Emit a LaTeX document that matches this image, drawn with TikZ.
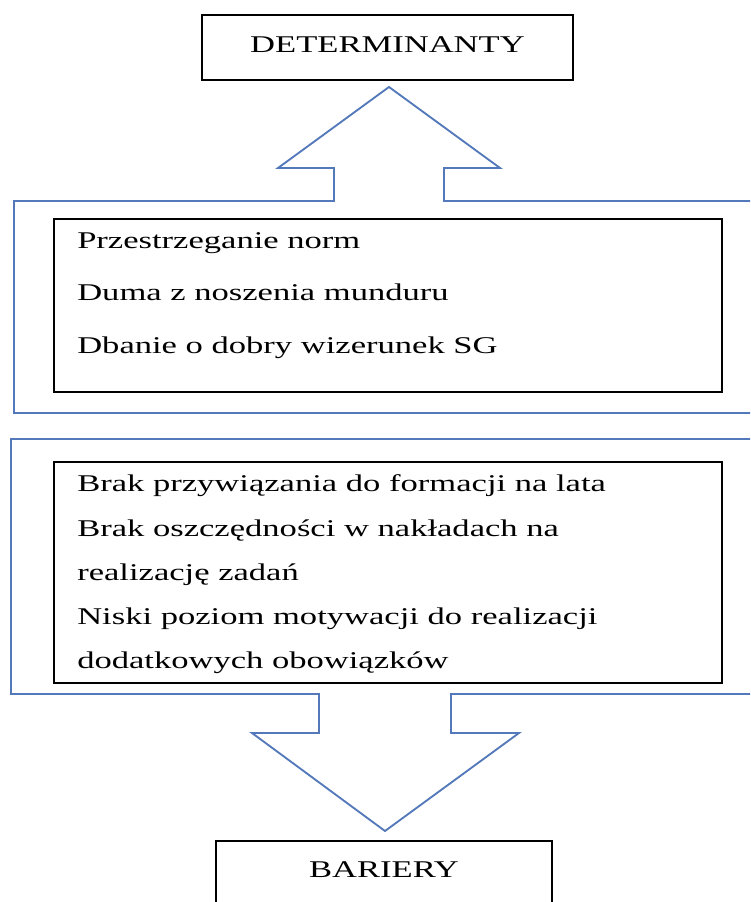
\documentclass[tikz,border=0pt]{standalone}
\usepackage{fontspec}
\setmainfont[FakeStretch=1.44]{Liberation Serif}
\definecolor{frameBlue}{RGB}{84,121,186}
\tikzset{
  box/.style={draw=black, line width=1.4pt, inner sep=0pt},
  entry/.style={anchor=base west, inner sep=0pt, font=\fontsize{18}{20}\selectfont},
  title/.style={anchor=base, inner sep=0pt, font=\fontsize{18}{20}\selectfont},
  frame/.style={draw=frameBlue, line width=1.4pt, line join=miter},
}

\begin{document}
\begin{tikzpicture}[x=0.75pt, y=-0.75pt]
  \useasboundingbox (0,0) rectangle (750,902);
  \clip (0,0) rectangle (750,902);
  % Boxes
  \node[box, minimum width=278.25pt, minimum height=48.75pt] (det) at (387.5,47.5) {};
  \node[title] (detText) at (387.5,53) {DETERMINANTY};
  \node[box, minimum width=501pt, minimum height=129.75pt] (plus) at (388,305.5) {};
  \node[box, minimum width=501pt, minimum height=165.75pt] (minus) at (388,572.5) {};
  \node[box, minimum width=252pt, minimum height=75pt] (bar) at (384,891) {};
  \node[title] (barText) at (384,877) {BARIERY};

  % Entries
  \node[entry] (plusA) at (77,248) {Przestrzeganie norm};
  \node[entry] (plusB) at (77,300) {Duma z noszenia munduru};
  \node[entry] (plusC) at (77,353) {Dbanie o dobry wizerunek SG};

  \node[entry] (minusA) at (77,491) {Brak przywiązania do formacji na lata};
  \node[entry] (minusB) at (77,536) {Brak oszczędności w nakładach na};
  \node[entry] (minusC) at (77,580) {realizację zadań};
  \node[entry] (minusD) at (77,624) {Niski poziom motywacji do realizacji};
  \node[entry] (minusE) at (77,668) {dodatkowych obowiązków};

  % Frames with block arrows
  \coordinate (upTip) at (389,87);
  \coordinate (downTip) at (385,831);
  \draw[frame] (760,413) -- (14,413) -- (14,201) -- (334,201) -- (334,168)
    -- (278,168) -- (upTip) -- (500,168) -- (444,168) -- (444,201) -- (760,201);
  \draw[frame] (760,439) -- (11,439) -- (11,694) -- (319,694) -- (319,733)
    -- (252,733) -- (downTip) -- (519,733) -- (451,733) -- (451,694) -- (760,694);
\end{tikzpicture}
\end{document}
